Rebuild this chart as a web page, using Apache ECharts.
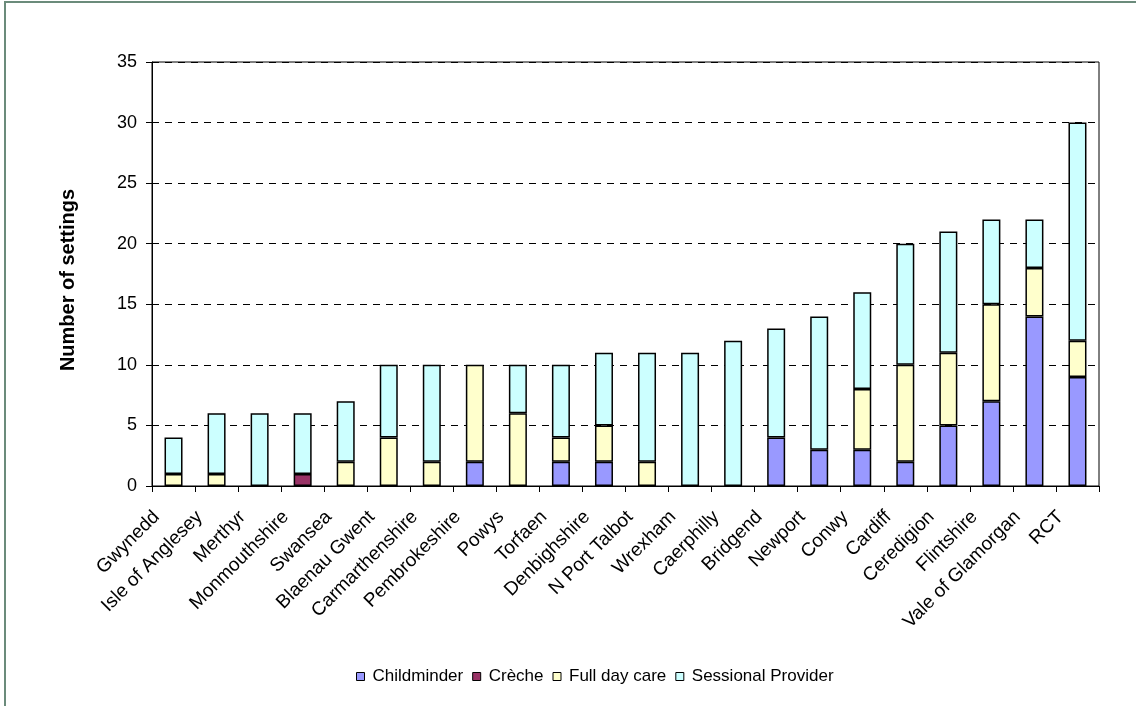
<!DOCTYPE html>
<html>
<head>
<meta charset="utf-8">
<script src="https://cdn.jsdelivr.net/npm/echarts@6/dist/echarts.min.js"></script>
<style>
html,body{margin:0;padding:0;background:#fff;}
#frame{position:absolute;left:4px;top:1px;width:1140px;height:710px;border-left:2px solid #6b8b7b;border-top:2px solid #6b8b7b;box-sizing:border-box;}
#chart{position:absolute;left:0;top:0;width:1136px;height:706px;}
</style>
</head>
<body>
<div id="frame"></div>
<div id="chart"></div>
<script>
const categories = ["Gwynedd","Isle of Anglesey","Merthyr","Monmouthshire","Swansea","Blaenau Gwent","Carmarthenshire","Pembrokeshire","Powys","Torfaen","Denbighshire","N Port Talbot","Wrexham","Caerphilly","Bridgend","Newport","Conwy","Cardiff","Ceredigion","Flintshire","Vale of Glamorgan","RCT"];
const childminder = [0,0,0,0,0,0,0,2,0,2,2,0,0,0,4,3,3,2,5,7,14,9];
const creche      = [0,0,0,1,0,0,0,0,0,0,0,0,0,0,0,0,0,0,0,0,0,0];
const fullDayCare = [1,1,0,0,2,4,2,8,6,2,3,2,0,0,0,0,5,8,6,8,4,3];
const sessional   = [3,5,6,5,5,6,8,0,4,6,6,9,11,12,9,11,8,10,10,7,4,18];
const seriesNames = ["Childminder","Crèche","Full day care","Sessional Provider"];
const yTicks = [0,5,10,15,20,25,30,35];

const colors = ["#9999ff","#993366","#ffffcc","#ccffff"];
const FONT = "Liberation Sans, Arial, sans-serif";
const chart = echarts.init(document.getElementById('chart'));
const toData = arr => arr.map(v => v === 0 ? '-' : v);
const allData = [childminder, creche, fullDayCare, sessional];

chart.setOption({
  animation: false,
  textStyle: {fontFamily: FONT},
  grid: {left: 152, top: 62, right: 37, bottom: 220, show: true, borderColor: '#000', borderWidth: 1, containLabel: false},
  legend: {
    bottom: 21, left: 356, padding: 0,
    itemWidth: 8, itemHeight: 8, itemGap: 9,
    icon: 'rect',
    textStyle: {fontSize: 17, color: '#000', fontFamily: FONT, padding: [0,0,0,3]},
    data: seriesNames.map((n,i) => ({name: n, itemStyle: {color: colors[i], borderColor: '#000', borderWidth: 1}}))
  },
  xAxis: {
    type: 'category', data: categories,
    axisLine: {lineStyle: {color: '#000', width: 1}},
    axisTick: {show: true, length: 6, lineStyle: {color: '#000'}},
    axisLabel: {rotate: 45, interval: 0, fontSize: 19, color: '#000', margin: 11, fontFamily: FONT, padding: [0,24,0,0]},
    splitLine: {show: false}
  },
  yAxis: {
    type: 'value', min: 0, max: 35, interval: 5,
    name: 'Number of settings', nameLocation: 'middle', nameGap: 74,
    nameTextStyle: {fontSize: 20, fontWeight: 'bold', color: '#000', fontFamily: FONT, padding: [0,12,0,0]},
    axisLine: {show: true, lineStyle: {color: '#000', width: 1}},
    axisTick: {show: true, length: 6, lineStyle: {color: '#000'}},
    axisLabel: {fontSize: 18, color: '#000', margin: 15, fontFamily: FONT,
      formatter: v => yTicks.includes(v) ? String(v) : ''},
    splitLine: {show: true, lineStyle: {color: '#000', type: [7,6], width: 1}}
  },
  series: seriesNames.map((n,i) => ({
    name: n, type: 'bar', stack: 'total', barWidth: 18,
    data: toData(allData[i]),
    itemStyle: {color: colors[i], borderColor: '#000', borderWidth: 1.5}
  }))
});
</script>
</body>
</html>
